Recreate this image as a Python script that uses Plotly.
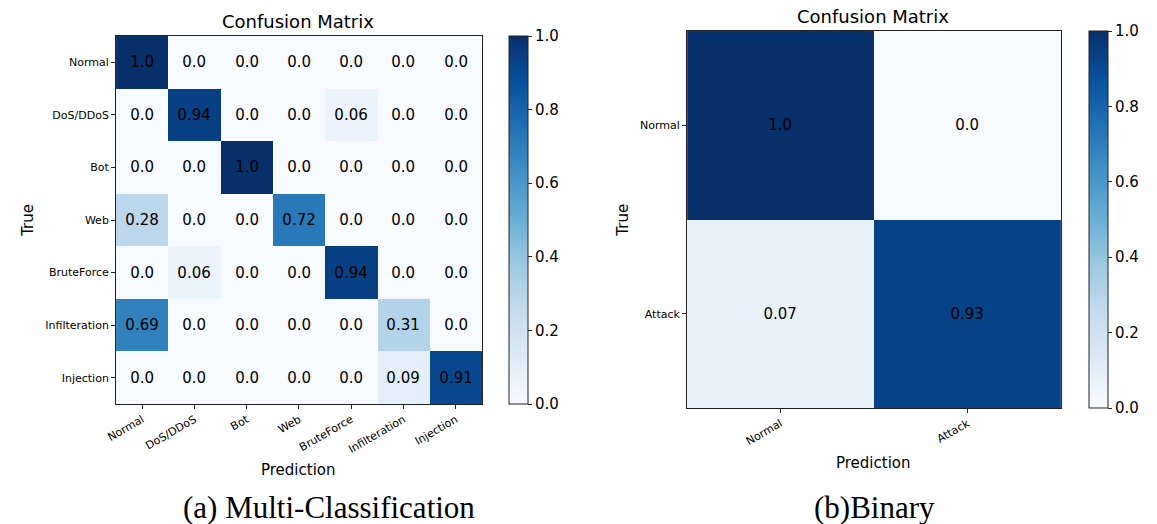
import plotly.graph_objects as go

# Multi-class confusion matrix (rows = true class, columns = predicted class)
multi_labels = ["Normal", "DoS/DDoS", "Bot", "Web", "BruteForce", "Infilteration", "Injection"]
multi_normal = [1.0, 0.0, 0.0, 0.0, 0.0, 0.0, 0.0]
multi_dos = [0.0, 0.94, 0.0, 0.0, 0.06, 0.0, 0.0]
multi_bot = [0.0, 0.0, 1.0, 0.0, 0.0, 0.0, 0.0]
multi_web = [0.28, 0.0, 0.0, 0.72, 0.0, 0.0, 0.0]
multi_brute = [0.0, 0.06, 0.0, 0.0, 0.94, 0.0, 0.0]
multi_infil = [0.69, 0.0, 0.0, 0.0, 0.0, 0.31, 0.0]
multi_inject = [0.0, 0.0, 0.0, 0.0, 0.0, 0.09, 0.91]
multi_matrix = [multi_normal, multi_dos, multi_bot, multi_web,
                multi_brute, multi_infil, multi_inject]

# Binary confusion matrix
binary_labels = ["Normal", "Attack"]
binary_normal = [1.0, 0.0]
binary_attack = [0.07, 0.93]
binary_matrix = [binary_normal, binary_attack]

colorbar_ticks = [0.0, 0.2, 0.4, 0.6, 0.8, 1.0]

W, H = 1157, 524
SANS = "DejaVu Sans"
SERIF = "Liberation Serif"


def px_x(v):
    return v / W


def px_y(v):
    return 1 - v / H


def cell_text(matrix):
    return [[str(v) for v in row] for row in matrix]


def colorbar(left, top, bottom):
    return dict(
        x=px_x(left), xanchor="left", xpad=0,
        y=px_y((top + bottom) / 2), yanchor="middle", ypad=0,
        len=bottom - top, lenmode="pixels",
        thickness=19, thicknessmode="pixels",
        outlinewidth=1, outlinecolor="#222",
        tickvals=colorbar_ticks, ticktext=[f"{t:.1f}" for t in colorbar_ticks],
        ticks="outside", ticklen=4, tickwidth=1, tickcolor="#222",
        tickfont=dict(family=SANS, size=15, color="black"),
    )


fig = go.Figure()

fig.add_trace(go.Heatmap(
    z=multi_matrix, x=multi_labels, y=multi_labels,
    text=cell_text(multi_matrix), texttemplate="%{text}",
    textfont=dict(family=SANS, size=15, color="black"),
    colorscale="Blues", zmin=0, zmax=1,
    colorbar=colorbar(503, 36, 404),
    xaxis="x", yaxis="y", hoverinfo="skip",
))

fig.add_trace(go.Heatmap(
    z=binary_matrix, x=binary_labels, y=binary_labels,
    text=cell_text(binary_matrix), texttemplate="%{text}",
    textfont=dict(family=SANS, size=15, color="black"),
    colorscale="Blues", zmin=0, zmax=1,
    colorbar=colorbar(1088, 31, 408),
    xaxis="x2", yaxis="y2", hoverinfo="skip",
))

axis_style = dict(
    showline=True, mirror=True, linecolor="#222", linewidth=1,
    ticks="outside", ticklen=4, tickwidth=1, tickcolor="#222",
    tickfont=dict(family=SANS, size=11, color="black"),
    showgrid=False, zeroline=False, fixedrange=True,
)

fig.update_layout(
    width=W, height=H,
    margin=dict(l=0, r=0, t=0, b=0),
    paper_bgcolor="white", plot_bgcolor="white",
    xaxis=dict(domain=[px_x(107), px_x(476)], anchor="y", tickangle=-30, **axis_style),
    yaxis=dict(domain=[px_y(404), px_y(36)], anchor="x", autorange="reversed", **axis_style),
    xaxis2=dict(domain=[px_x(683), px_x(1060)], anchor="y2", tickangle=-30, **axis_style),
    yaxis2=dict(domain=[px_y(408), px_y(31)], anchor="x2", autorange="reversed", **axis_style),
    showlegend=False,
)


def label(text, x, y, size, family=SANS, angle=0):
    fig.add_annotation(
        text=text, x=px_x(x), y=px_y(y), xref="paper", yref="paper",
        xanchor="center", yanchor="middle", showarrow=False, textangle=angle,
        font=dict(family=family, size=size, color="black"),
    )


# Panel titles, axis titles and captions
label("Confusion Matrix", 291, 21, 18)
label("Confusion Matrix", 871, 16, 18)
label("Prediction", 291, 470, 15)
label("Prediction", 871, 463, 15)
label("True", 18, 220, 15, angle=-90)
label("True", 618, 220, 15, angle=-90)
label("(a) Multi-Classification", 322, 507, 31, family=SERIF)
label("(b)Binary", 872, 507, 31, family=SERIF)

fig.write_html("out.html")
